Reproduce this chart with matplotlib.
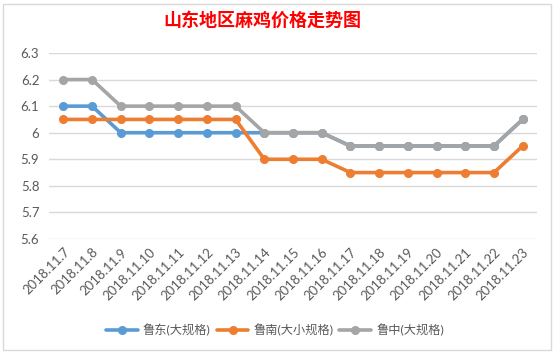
import matplotlib
matplotlib.use("Agg")
import matplotlib.pyplot as plt
from matplotlib.patches import Rectangle

plt.rcParams['font.family'] = ['Lato', 'Noto Sans CJK SC', 'DejaVu Sans']

dates = ["2018.11.7", "2018.11.8", "2018.11.9", "2018.11.10", "2018.11.11", "2018.11.12",
         "2018.11.13", "2018.11.14", "2018.11.15", "2018.11.16", "2018.11.17", "2018.11.18",
         "2018.11.19", "2018.11.20", "2018.11.21", "2018.11.22", "2018.11.23"]
ludong = [6.1, 6.1, 6.0, 6.0, 6.0, 6.0, 6.0, 6.0, 6.0, 6.0, 5.95, 5.95, 5.95, 5.95, 5.95, 5.95, 6.05]
lunan = [6.05, 6.05, 6.05, 6.05, 6.05, 6.05, 6.05, 5.9, 5.9, 5.9, 5.85, 5.85, 5.85, 5.85, 5.85, 5.85, 5.95]
luzhong = [6.2, 6.2, 6.1, 6.1, 6.1, 6.1, 6.1, 6.0, 6.0, 6.0, 5.95, 5.95, 5.95, 5.95, 5.95, 5.95, 6.05]
names = ["鲁东(大规格)", "鲁南(大小规格)", "鲁中(大规格)"]
colors = ["#5B9BD5", "#ED7D31", "#A5A5A5"]
yticks = [5.6, 5.7, 5.8, 5.9, 6.0, 6.1, 6.2, 6.3]
ylabels = ["5.6", "5.7", "5.8", "5.9", "6", "6.1", "6.2", "6.3"]

fig = plt.figure(figsize=(5.54, 3.54), dpi=100)
fig.patches.append(Rectangle((3/554, 4/354), 548/554, 346/354, transform=fig.transFigure,
                             fill=False, edgecolor="#D9D9D9", linewidth=1))
ax = fig.add_axes([49/554, 1-239/354, (537-49)/554, (239-53)/354])

x = list(range(len(dates)))
for ys, nm, c in zip([ludong, lunan, luzhong], names, colors):
    ax.plot(x, ys, color=c, linewidth=2.6, marker='o', markersize=5.5, label=nm,
            solid_capstyle='round')

ax.set_xlim(-0.5, len(dates) - 0.5)
ax.set_ylim(5.6, 6.3)
ax.set_yticks(yticks)
ax.set_yticklabels(ylabels)
ax.set_xticks(x)
ax.set_xticklabels(dates, rotation=45, ha='right', rotation_mode='anchor')
ax.tick_params(axis='both', length=0, colors="#595959", labelsize=9.5)
ax.tick_params(axis='y', pad=7)
ax.tick_params(axis='x', pad=5)
ax.grid(axis='y', color="#D9D9D9", linewidth=1)
ax.set_axisbelow(True)
for s in ax.spines.values():
    s.set_visible(False)

fig.text(262/554, 1-20/354, "山东地区麻鸡价格走势图", color="red", fontsize=13,
         fontweight='bold', ha='center', va='center')

leg = fig.legend(loc='center', bbox_to_anchor=(275/554, 1-330/354), ncol=3, frameon=False,
                 fontsize=8.8, handlelength=2.6, columnspacing=0.5, handletextpad=0.4,
                 labelcolor="#595959")

fig.savefig("out.png", dpi=100)
